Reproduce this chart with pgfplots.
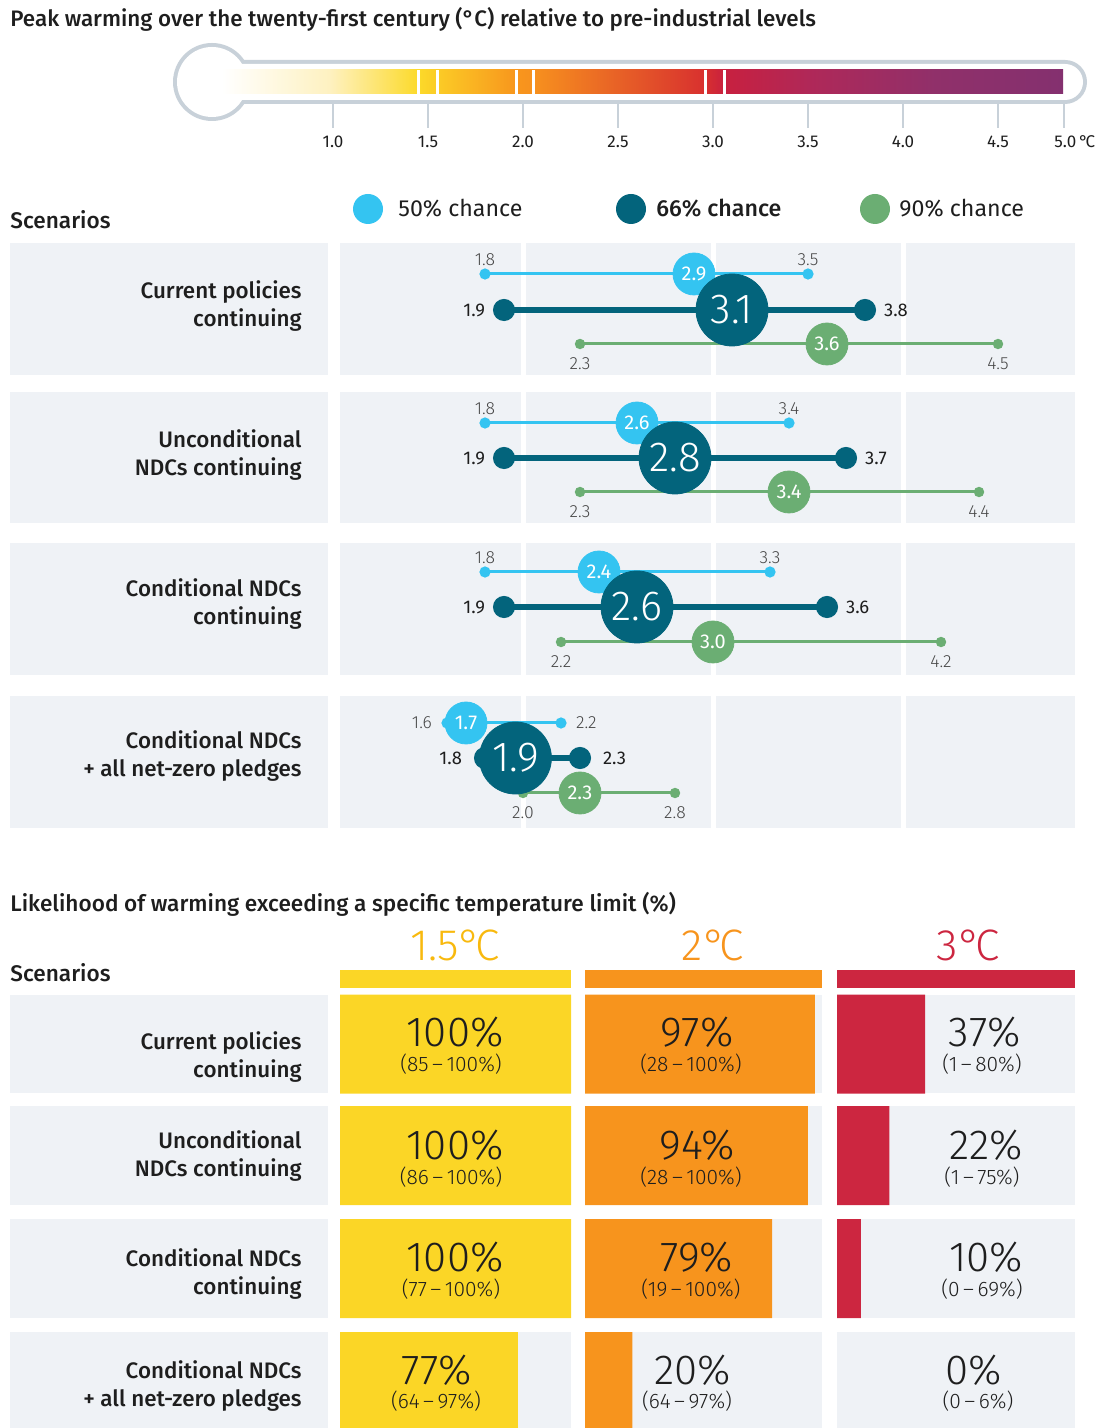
\documentclass[border=0pt]{standalone}
\usepackage{fontspec}
\setmainfont{Fira Sans}[BoldFont={Fira Sans Medium}]
\newfontfamily\lt{Fira Sans Light}
\usepackage{pgfplots}
\pgfplotsset{compat=1.18}

\definecolor{bg}{HTML}{EFF2F6}
\definecolor{ccb}{HTML}{34C4F1}
\definecolor{cct}{HTML}{03647C}
\definecolor{ccg}{HTML}{6BAE73}
\definecolor{yel}{HTML}{FBD626}
\definecolor{ora}{HTML}{F7941D}
\definecolor{red3}{HTML}{CC2640}
\definecolor{hdr}{HTML}{F8B90E}
\definecolor{outl}{HTML}{C8D1D9}
\definecolor{txt}{HTML}{1E1E1E}
\definecolor{gtx}{HTML}{474747}
% thermometer gradient stops
\definecolor{g0}{HTML}{FFFFFF}
\definecolor{g1}{HTML}{FEF1C0}
\definecolor{g2}{HTML}{FCDA2A}
\definecolor{g3}{HTML}{FBCB26}
\definecolor{g4}{HTML}{F8961D}
\definecolor{g5}{HTML}{F7911E}
\definecolor{g6}{HTML}{D8302F}
\definecolor{g7}{HTML}{C8203F}
\definecolor{g8}{HTML}{B02858}
\definecolor{g9}{HTML}{90306A}
\definecolor{g10}{HTML}{84306F}

\newcommand\fs[1]{\fontsize{#1}{#1}\selectfont}
\newcommand\dg{°\kern-0.14em}

\pgfplotsset{lay/.style={width=551pt,height=714pt,scale only axis,hide axis,
  at={(0,0)},anchor=south west,y dir=reverse,ymin=0,ymax=1428}}
\tikzset{px/.style={x=0.5pt,y=-0.5pt,yshift=714pt},
  l50/.style={gtx,font=\lt\fs{8.8}},
  l66/.style={txt,font=\fs{9.2}},
  rowlab/.style={anchor=east,align=right,inner sep=0,txt,font=\bfseries\fontsize{11.2}{14}\selectfont}}

% one dumbbell: colour, line width, end dot, circle size, lo, mid, hi, y
\newcommand\dumb[8]{%
  \addplot[#1,line width=#2,mark=*,mark size=#3] coordinates {(#5,#8) (#7,#8)};
  \addplot[#1,only marks,mark=*,mark size=#4] coordinates {(#6,#8)};
}

\begin{document}
\begin{tikzpicture}
\begin{scope}[px]
\node[anchor=base west,inner sep=0,font=\bfseries\fs{11.2},txt] at (10,27)
  {Peak warming over the twenty-first century (°C) relative to pre-industrial levels};
% thermometer
\fill[outl] (212,82) circle[radius=19.5pt];
\fill[outl,rounded corners=11pt] (215,60) rectangle (1087,104);
\fill[white] (212,82) circle[radius=17.5pt];
\fill[white,rounded corners=9pt] (215,64) rectangle (1083,100);
\shade[left color=g0,right color=g1] (222,70) rectangle (330.5,94);
\shade[left color=g1,right color=g2] (330,70) rectangle (418.5,94);
\shade[left color=g2,right color=g3] (418,70) rectangle (438.5,94);
\shade[left color=g3,right color=g4] (438,70) rectangle (516.5,94);
\shade[left color=g4,right color=g5] (516,70) rectangle (533.5,94);
\shade[left color=g5,right color=g6] (533,70) rectangle (705.5,94);
\shade[left color=g6,right color=g7] (705,70) rectangle (724.5,94);
\shade[left color=g7,right color=g8] (724,70) rectangle (808.5,94);
\shade[left color=g8,right color=g10,middle color=g9] (808,70) rectangle (1063,94);
\foreach \x in {418,437,516,533,705,724}
  \fill[white] (\x-1.5,70) rectangle (\x+1.5,94);
\foreach \x/\l in {333/1.0,428/1.5,523/2.0,618/2.5,713/3.0,808/3.5,903/4.0,998/4.5}{
  \draw[outl,line width=1pt] (\x,104)--(\x,128);
  \node[anchor=base,font=\fs{8.5},txt] at (\x,148) {\l};}
\draw[outl,line width=1pt] (1064,104)--(1064,128);
\node[anchor=base west,inner sep=0,font=\fs{8.5},txt] at (1054,148) {5.0\,\dg C};
% legend
\node[anchor=base west,inner sep=0,font=\bfseries\fs{11.3},txt] at (10,229) {Scenarios};
\fill[ccb] (368,209) circle[radius=7.5pt];
\fill[cct] (631,209) circle[radius=7.5pt];
\fill[ccg] (875,209) circle[radius=7.5pt];
\node[anchor=base west,inner sep=0,font=\fs{11.6},txt] at (398,217) {50\% chance};
\node[anchor=base west,inner sep=0,font=\bfseries\fs{11.6},txt] at (656,217) {66\% chance};
\node[anchor=base west,inner sep=0,font=\fs{11.6},txt] at (899,217) {90\% chance};
% panels
\foreach \a/\b in {243/375,392/523,543/675,696/828}{
  \fill[bg] (10,\a) rectangle (328,\b);
  \fill[bg] (340,\a) rectangle (520.5,\b);
  \fill[bg] (525.5,\a) rectangle (710.5,\b);
  \fill[bg] (715.5,\a) rectangle (900.5,\b);
  \fill[bg] (905.5,\a) rectangle (1075,\b);}
\node[rowlab] at (302,306) {Current policies\\continuing};
\node[rowlab] at (302,455) {Unconditional\\NDCs continuing};
\node[rowlab] at (302,604) {Conditional NDCs\\continuing};
\node[rowlab] at (302,756) {Conditional NDCs\\+ all net-zero pledges};
% lower section
\node[anchor=base west,inner sep=0,font=\bfseries\fs{11.3},txt] at (10,912)
  {Likelihood of warming exceeding a specific temperature limit (\%)};
\node[anchor=base west,inner sep=0,font=\bfseries\fs{11.3},txt] at (10,982) {Scenarios};
\node[anchor=base,inner sep=0,font=\lt\fs{22},hdr] at (455,961) {1.5\dg C};
\node[anchor=base,inner sep=0,font=\lt\fs{22},ora] at (713,961) {2\dg C};
\node[anchor=base,inner sep=0,font=\lt\fs{22},red3] at (968,961) {3\dg C};
\fill[yel] (340,970) rectangle (571,988);
\fill[ora] (585,970) rectangle (822,988);
\fill[red3] (837,970) rectangle (1075,988);
\foreach \a/\b in {995/1093,1106/1205,1219/1318,1332/1428}{
  \fill[bg] (10,\a) rectangle (328,\b);
  \fill[bg] (340,\a) rectangle (571,\b);
  \fill[bg] (585,\a) rectangle (822,\b);
  \fill[bg] (837,\a) rectangle (1075,\b);}
\node[rowlab] at (302,1057) {Current policies\\continuing};
\node[rowlab] at (302,1156) {Unconditional\\NDCs continuing};
\node[rowlab] at (302,1274) {Conditional NDCs\\continuing};
\node[rowlab] at (302,1386) {Conditional NDCs\\+ all net-zero pledges};
\end{scope}

% dumbbells, x in degrees C
\begin{axis}[lay,xmin=-0.752632,xmax=5.047368,clip=false]
% row 1
\dumb{ccb}{1.5pt}{2pt}{10.5pt}{1.8}{2.9}{3.5}{274}
\dumb{ccg}{1.5pt}{1.8pt}{10.5pt}{2.3}{3.6}{4.5}{344}
\dumb{cct}{3pt}{4pt}{18pt}{1.9}{3.1}{3.8}{310}
% row 2
\dumb{ccb}{1.5pt}{2pt}{10.5pt}{1.8}{2.6}{3.4}{423}
\dumb{ccg}{1.5pt}{1.8pt}{10.5pt}{2.3}{3.4}{4.4}{492}
\dumb{cct}{3pt}{4pt}{18pt}{1.9}{2.8}{3.7}{458}
% row 3
\dumb{ccb}{1.5pt}{2pt}{10.5pt}{1.8}{2.4}{3.3}{572}
\dumb{ccg}{1.5pt}{1.8pt}{10.5pt}{2.2}{3.0}{4.2}{642}
\dumb{cct}{3pt}{4pt}{18pt}{1.9}{2.6}{3.6}{607}
% row 4
\dumb{ccb}{1.5pt}{2pt}{10.5pt}{1.6}{1.7}{2.2}{723}
\dumb{ccg}{1.5pt}{1.8pt}{10.5pt}{2.0}{2.3}{2.8}{793}
\dumb{cct}{3pt}{4pt}{18pt}{1.8}{1.96}{2.3}{758}
% end values
\node[l50,yshift=7pt] at (axis cs:1.8,274) {1.8};
\node[l50,yshift=7pt] at (axis cs:3.5,274) {3.5};
\node[l66,anchor=east,xshift=-6pt] at (axis cs:1.9,310) {1.9};
\node[l66,anchor=west,xshift=6pt] at (axis cs:3.8,310) {3.8};
\node[l50,yshift=-10pt] at (axis cs:2.3,344) {2.3};
\node[l50,yshift=-10pt] at (axis cs:4.5,344) {4.5};
\node[l50,yshift=7pt] at (axis cs:1.8,423) {1.8};
\node[l50,yshift=7pt] at (axis cs:3.4,423) {3.4};
\node[l66,anchor=east,xshift=-6pt] at (axis cs:1.9,458) {1.9};
\node[l66,anchor=west,xshift=6pt] at (axis cs:3.7,458) {3.7};
\node[l50,yshift=-10pt] at (axis cs:2.3,492) {2.3};
\node[l50,yshift=-10pt] at (axis cs:4.4,492) {4.4};
\node[l50,yshift=7pt] at (axis cs:1.8,572) {1.8};
\node[l50,yshift=7pt] at (axis cs:3.3,572) {3.3};
\node[l66,anchor=east,xshift=-6pt] at (axis cs:1.9,607) {1.9};
\node[l66,anchor=west,xshift=6pt] at (axis cs:3.6,607) {3.6};
\node[l50,yshift=-10pt] at (axis cs:2.2,642) {2.2};
\node[l50,yshift=-10pt] at (axis cs:4.2,642) {4.2};
\node[l50,anchor=east,xshift=-4pt] at (axis cs:1.6,723) {1.6};
\node[l50,anchor=west,xshift=4pt] at (axis cs:2.2,723) {2.2};
\node[l66,anchor=east,xshift=-8pt] at (axis cs:1.8,758) {1.8};
\node[l66,anchor=west,xshift=8pt] at (axis cs:2.3,758) {2.3};
\node[l50,yshift=-10pt] at (axis cs:2.0,793) {2.0};
\node[l50,yshift=-10pt] at (axis cs:2.8,793) {2.8};
\end{axis}

% likelihood bars, one axis per limit, x in percent
\begin{axis}[lay,xmin=-147.186,xmax=329.870,xbar,bar width=99]
\addplot[draw=none,fill=yel] coordinates {(100,1044) (100,1155.5) (100,1268.5) (77,1381.5)};
\end{axis}
\begin{axis}[lay,xmin=-246.835,xmax=218.143,xbar,bar width=99]
\addplot[draw=none,fill=ora] coordinates {(97,1044) (94,1155.5) (79,1268.5) (20,1381.5)};
\end{axis}
\begin{axis}[lay,xmin=-351.681,xmax=111.345,xbar,bar width=99]
\addplot[draw=none,fill=red3] coordinates {(37,1044) (22,1155.5) (10,1268.5)};
\end{axis}

% centre values of the dumbbells, placed over the circles (x = 333 + (T-1)*190)
\begin{scope}[px,every node/.style={white}]
\foreach \t/\y/\l in {2.9/274/2.9,3.6/344/3.6,2.6/423/2.6,3.4/492/3.4,2.4/572/2.4,3.0/642/3.0,1.7/723/1.7,2.3/793/2.3}
  \node[font=\fs{10}] at ({333+(\t-1)*190},\y) {\l};
\foreach \t/\y/\l in {3.1/310/3.1,2.8/458/2.8,2.6/607/2.6,1.96/758/1.9}
  \node[font=\lt\fs{21}] at ({333+(\t-1)*190},\y) {\l};
\end{scope}

\begin{scope}[px,every node/.style={anchor=base,inner sep=0,txt}]
\foreach \y/\r in {0/85,112.5/86,225/77}{
  \node[font=\lt\fs{21}] at (455,1047+\y) {100\%};
  \node[font=\lt\fs{10.5}] at (451,1072+\y) {(\r\,–\,100\%)};}
\node[font=\lt\fs{21}] at (437,1385) {77\%};
\node[font=\lt\fs{10.5}] at (436,1409) {(64\,–\,97\%)};
\node[font=\lt\fs{21}] at (697,1047) {97\%};
\node[font=\lt\fs{10.5}] at (691,1072) {(28\,–\,100\%)};
\node[font=\lt\fs{21}] at (697,1159.5) {94\%};
\node[font=\lt\fs{10.5}] at (691,1184.5) {(28\,–\,100\%)};
\node[font=\lt\fs{21}] at (697,1272) {79\%};
\node[font=\lt\fs{10.5}] at (691,1297) {(19\,–\,100\%)};
\node[font=\lt\fs{21}] at (693,1385) {20\%};
\node[font=\lt\fs{10.5}] at (687,1409) {(64\,–\,97\%)};
\node[font=\lt\fs{21}] at (985,1047) {37\%};
\node[font=\lt\fs{10.5}] at (982,1072) {(1\,–\,80\%)};
\node[font=\lt\fs{21}] at (986,1159.5) {22\%};
\node[font=\lt\fs{10.5}] at (982,1184.5) {(1\,–\,75\%)};
\node[font=\lt\fs{21}] at (986,1272) {10\%};
\node[font=\lt\fs{10.5}] at (982,1297) {(0\,–\,69\%)};
\node[font=\lt\fs{21}] at (974,1385) {0\%};
\node[font=\lt\fs{10.5}] at (978,1409) {(0\,–\,6\%)};
\end{scope}
\pgfresetboundingbox
\path (0,0) rectangle (551pt,714pt);
\end{tikzpicture}
\end{document}
